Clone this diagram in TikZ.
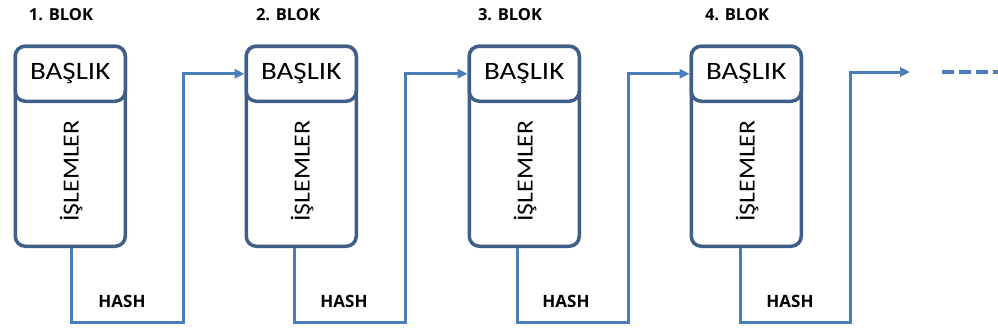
\documentclass[tikz,border=0pt]{standalone}
\usepackage{fontspec}
\usepackage{graphicx}
\setmainfont{Carlito}
\newfontfamily\labelfont{Open Sans}
\usetikzlibrary{arrows.meta}

\definecolor{boxline}{HTML}{3F5E88}
\definecolor{linkline}{HTML}{4A7EBB}

\tikzset{
  blockbox/.style={draw=boxline, line width=3.5pt, rounded corners=10pt, fill=white,
    minimum width=110pt, minimum height=200pt, inner sep=0pt, anchor=north west},
  headbox/.style={draw=boxline, line width=3.5pt, rounded corners=10pt, fill=white,
    minimum width=110pt, minimum height=55pt, inner sep=0pt, anchor=north west,
    font=\fontsize{25}{25}\selectfont},
  bodytext/.style={inner sep=0pt, rotate=90, font=\fontsize{23}{23}\selectfont},
  blocklabel/.style={inner sep=0pt, font=\labelfont\bfseries\fontsize{16.5}{16.5}\selectfont},
  hashlabel/.style={inner sep=0pt, font=\labelfont\bfseries\fontsize{17}{17}\selectfont},
  link/.style={draw=linkline, line width=3pt},
  linkarrow/.style={link, -{Triangle[length=10pt,width=9pt]}}
}

\begin{document}
\begin{tikzpicture}[x=1pt, y=-1pt]
  \useasboundingbox (0,0) rectangle (998,333);

  % four blocks: outer frame, header and vertical body text
  \foreach \i/\xl/\lx in {1/13.5/61, 2/244.5/288, 3/467.5/510, 4/689.5/737} {
    \node[blockbox] (b\i) at (\xl,44.5) {};
    \node[headbox] (h\i) at (\xl,44.5) {\scalebox{1.16}[1]{BAŞLIK}};
    \node[bodytext] (t\i) at ([yshift=-68pt,xshift=1pt]h\i.south) {\scalebox{1.12}[1]{İŞLEMLER}};
    \node[blocklabel] (l\i) at (\lx,15) {\i. BLOK};
  }

  % hash links between the blocks
  \coordinate (d1) at (71,322);  \coordinate (u1) at (183,322);
  \coordinate (d2) at (294,322); \coordinate (u2) at (405,322);
  \coordinate (d3) at (517,322); \coordinate (u3) at (628,322);
  \coordinate (d4) at (740,322); \coordinate (u4) at (850,322);
  \coordinate (open) at (910,72);
  \coordinate (dashA) at (942,72);
  \coordinate (dashB) at (998,72);

  \draw[linkarrow] (b1.south -| d1) -- (d1) -- (u1) -- (u1 |- h2.west) -- (h2.west);
  \draw[linkarrow] (b2.south -| d2) -- (d2) -- (u2) -- (u2 |- h3.west) -- (h3.west);
  \draw[linkarrow] (b3.south -| d3) -- (d3) -- (u3) -- (u3 |- h4.west) -- (h4.west);
  \draw[linkarrow] (b4.south -| d4) -- (d4) -- (u4) -- (u4 |- open) -- (open);
  \draw[link, line width=3.5pt, dash pattern=on 12pt off 5pt] (dashA) -- (dashB);

  \node[hashlabel] (hash1) at (122,301) {HASH};
  \node[hashlabel] (hash2) at (344,301) {HASH};
  \node[hashlabel] (hash3) at (566,301) {HASH};
  \node[hashlabel] (hash4) at (790,301) {HASH};
\end{tikzpicture}
\end{document}
